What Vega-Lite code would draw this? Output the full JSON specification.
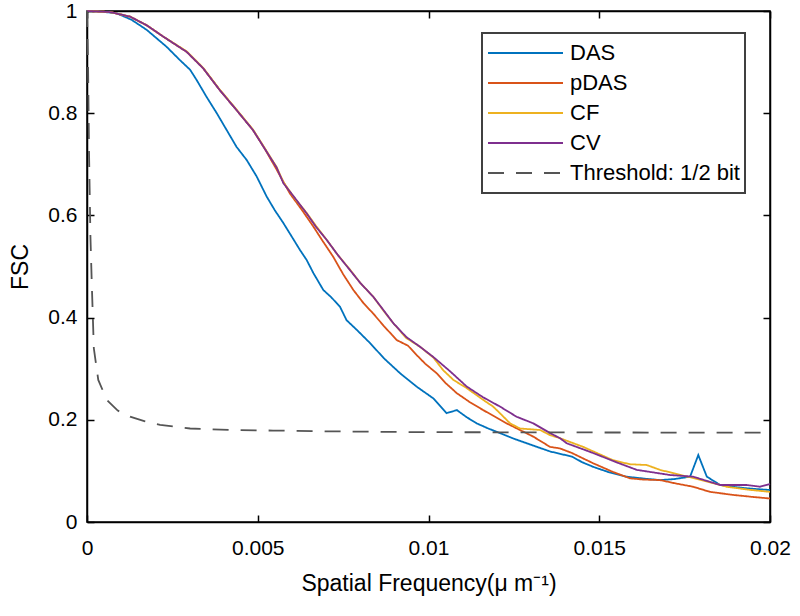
{
  "$schema": "https://vega.github.io/schema/vega-lite/v6.json",
  "width": 683,
  "height": 511,
  "autosize": {"type": "none"},
  "padding": {"left": 87, "top": 11, "right": 30, "bottom": 94},
  "background": "white",
  "config": {
    "font": "Liberation Sans",
    "view": {"stroke": "#000", "strokeWidth": 1.5},
    "axis": {
      "grid": false, "domainColor": "#000", "domainWidth": 1.5,
      "tickColor": "#000", "tickWidth": 1.5, "tickSize": -7,
      "labelColor": "#000", "labelFont": "Liberation Sans", "labelFontSize": 21,
      "titleFont": "Liberation Sans", "titleFontSize": 23, "titleFontWeight": "normal", "titleColor": "#000",
      "labelFlush": false, "labelOverlap": false, "labelBound": false
    },
    "legend": {
      "orient": "none", "legendX": 395, "legendY": 22,
      "fillColor": "#fff", "strokeColor": "#404040", "strokeWidth": 2, "padding": 5,
      "symbolType": "stroke", "symbolSize": 5625, "symbolStrokeWidth": 2,
      "labelFontSize": 22, "labelFont": "Liberation Sans", "labelColor": "#000",
      "labelOffset": 6, "clipHeight": 30, "rowPadding": 0, "labelLimit": 300
    }
  },
  "data": {"values": [
    {"series":"DAS","f":0,"fsc":1.0},{"series":"DAS","f":0.00038,"fsc":0.999},{"series":"DAS","f":0.00087,"fsc":0.9955},{"series":"DAS","f":0.0013,"fsc":0.983},{"series":"DAS","f":0.00175,"fsc":0.963},{"series":"DAS","f":0.00233,"fsc":0.930},{"series":"DAS","f":0.00272,"fsc":0.904},{"series":"DAS","f":0.00302,"fsc":0.885},{"series":"DAS","f":0.00321,"fsc":0.865},{"series":"DAS","f":0.0035,"fsc":0.832},{"series":"DAS","f":0.0038,"fsc":0.800},{"series":"DAS","f":0.00409,"fsc":0.767},{"series":"DAS","f":0.00438,"fsc":0.734},{"series":"DAS","f":0.00468,"fsc":0.708},{"series":"DAS","f":0.00497,"fsc":0.676},{"series":"DAS","f":0.00526,"fsc":0.637},{"series":"DAS","f":0.0055,"fsc":0.61},{"series":"DAS","f":0.00575,"fsc":0.585},{"series":"DAS","f":0.006,"fsc":0.558},{"series":"DAS","f":0.00624,"fsc":0.532},{"series":"DAS","f":0.00643,"fsc":0.513},{"series":"DAS","f":0.00663,"fsc":0.487},{"series":"DAS","f":0.00692,"fsc":0.454},{"series":"DAS","f":0.00715,"fsc":0.44},{"series":"DAS","f":0.00741,"fsc":0.421},{"series":"DAS","f":0.0076,"fsc":0.395},{"series":"DAS","f":0.0079,"fsc":0.376},{"series":"DAS","f":0.00829,"fsc":0.350},{"series":"DAS","f":0.0087,"fsc":0.32},{"series":"DAS","f":0.00917,"fsc":0.291},{"series":"DAS","f":0.00965,"fsc":0.265},{"series":"DAS","f":0.01014,"fsc":0.242},{"series":"DAS","f":0.01053,"fsc":0.213},{"series":"DAS","f":0.01083,"fsc":0.219},{"series":"DAS","f":0.01112,"fsc":0.205},{"series":"DAS","f":0.01141,"fsc":0.193},{"series":"DAS","f":0.01175,"fsc":0.183},{"series":"DAS","f":0.01209,"fsc":0.174},{"series":"DAS","f":0.0125,"fsc":0.163},{"series":"DAS","f":0.01288,"fsc":0.154},{"series":"DAS","f":0.01356,"fsc":0.138},{"series":"DAS","f":0.0142,"fsc":0.128},{"series":"DAS","f":0.0145,"fsc":0.117},{"series":"DAS","f":0.01482,"fsc":0.108},{"series":"DAS","f":0.0153,"fsc":0.097},{"series":"DAS","f":0.0158,"fsc":0.0887},{"series":"DAS","f":0.0163,"fsc":0.085},{"series":"DAS","f":0.01678,"fsc":0.082},{"series":"DAS","f":0.0172,"fsc":0.084},{"series":"DAS","f":0.01766,"fsc":0.0887},{"series":"DAS","f":0.0179,"fsc":0.131},{"series":"DAS","f":0.01815,"fsc":0.0887},{"series":"DAS","f":0.01854,"fsc":0.0724},{"series":"DAS","f":0.0189,"fsc":0.069},{"series":"DAS","f":0.01932,"fsc":0.066},{"series":"DAS","f":0.0197,"fsc":0.064},{"series":"DAS","f":0.02,"fsc":0.0626},
    {"series":"pDAS","f":0,"fsc":1.0},{"series":"pDAS","f":0.00067,"fsc":0.998},{"series":"pDAS","f":0.00126,"fsc":0.989},{"series":"pDAS","f":0.00175,"fsc":0.972},{"series":"pDAS","f":0.00223,"fsc":0.950},{"series":"pDAS","f":0.00292,"fsc":0.920},{"series":"pDAS","f":0.0034,"fsc":0.888},{"series":"pDAS","f":0.00389,"fsc":0.845},{"series":"pDAS","f":0.00438,"fsc":0.806},{"series":"pDAS","f":0.00486,"fsc":0.767},{"series":"pDAS","f":0.0052,"fsc":0.731},{"series":"pDAS","f":0.00555,"fsc":0.69},{"series":"pDAS","f":0.00594,"fsc":0.643},{"series":"pDAS","f":0.0063,"fsc":0.61},{"series":"pDAS","f":0.00663,"fsc":0.578},{"series":"pDAS","f":0.0069,"fsc":0.55},{"series":"pDAS","f":0.00721,"fsc":0.519},{"series":"pDAS","f":0.0075,"fsc":0.485},{"series":"pDAS","f":0.0078,"fsc":0.454},{"series":"pDAS","f":0.0081,"fsc":0.428},{"series":"pDAS","f":0.00838,"fsc":0.408},{"series":"pDAS","f":0.0087,"fsc":0.383},{"series":"pDAS","f":0.00907,"fsc":0.356},{"series":"pDAS","f":0.0094,"fsc":0.345},{"series":"pDAS","f":0.00965,"fsc":0.327},{"series":"pDAS","f":0.0099,"fsc":0.31},{"series":"pDAS","f":0.01024,"fsc":0.291},{"series":"pDAS","f":0.0105,"fsc":0.272},{"series":"pDAS","f":0.01083,"fsc":0.252},{"series":"pDAS","f":0.0112,"fsc":0.235},{"series":"pDAS","f":0.0116,"fsc":0.219},{"series":"pDAS","f":0.01195,"fsc":0.206},{"series":"pDAS","f":0.01229,"fsc":0.193},{"series":"pDAS","f":0.01268,"fsc":0.18},{"series":"pDAS","f":0.01307,"fsc":0.167},{"series":"pDAS","f":0.01356,"fsc":0.147},{"series":"pDAS","f":0.01385,"fsc":0.144},{"series":"pDAS","f":0.0142,"fsc":0.135},{"series":"pDAS","f":0.01482,"fsc":0.115},{"series":"pDAS","f":0.0154,"fsc":0.098},{"series":"pDAS","f":0.0159,"fsc":0.0855},{"series":"pDAS","f":0.0163,"fsc":0.083},{"series":"pDAS","f":0.01678,"fsc":0.082},{"series":"pDAS","f":0.0172,"fsc":0.076},{"series":"pDAS","f":0.01775,"fsc":0.069},{"series":"pDAS","f":0.01824,"fsc":0.059},{"series":"pDAS","f":0.01892,"fsc":0.053},{"series":"pDAS","f":0.0195,"fsc":0.049},{"series":"pDAS","f":0.02,"fsc":0.046},
    {"series":"CF","f":0,"fsc":1.0},{"series":"CF","f":0.00067,"fsc":0.998},{"series":"CF","f":0.00126,"fsc":0.989},{"series":"CF","f":0.00175,"fsc":0.972},{"series":"CF","f":0.00223,"fsc":0.950},{"series":"CF","f":0.00292,"fsc":0.921},{"series":"CF","f":0.0034,"fsc":0.889},{"series":"CF","f":0.00389,"fsc":0.846},{"series":"CF","f":0.00438,"fsc":0.807},{"series":"CF","f":0.00486,"fsc":0.768},{"series":"CF","f":0.0052,"fsc":0.732},{"series":"CF","f":0.00555,"fsc":0.695},{"series":"CF","f":0.00575,"fsc":0.665},{"series":"CF","f":0.0061,"fsc":0.632},{"series":"CF","f":0.00643,"fsc":0.605},{"series":"CF","f":0.0067,"fsc":0.58},{"series":"CF","f":0.00702,"fsc":0.552},{"series":"CF","f":0.00735,"fsc":0.522},{"series":"CF","f":0.0077,"fsc":0.494},{"series":"CF","f":0.008,"fsc":0.468},{"series":"CF","f":0.00838,"fsc":0.441},{"series":"CF","f":0.0087,"fsc":0.412},{"series":"CF","f":0.00897,"fsc":0.389},{"series":"CF","f":0.00935,"fsc":0.36},{"series":"CF","f":0.00975,"fsc":0.343},{"series":"CF","f":0.01014,"fsc":0.322},{"series":"CF","f":0.01043,"fsc":0.297},{"series":"CF","f":0.01073,"fsc":0.278},{"series":"CF","f":0.01112,"fsc":0.262},{"series":"CF","f":0.0116,"fsc":0.239},{"series":"CF","f":0.01189,"fsc":0.226},{"series":"CF","f":0.01209,"fsc":0.213},{"series":"CF","f":0.01239,"fsc":0.193},{"series":"CF","f":0.01268,"fsc":0.183},{"series":"CF","f":0.01327,"fsc":0.180},{"series":"CF","f":0.01356,"fsc":0.170},{"series":"CF","f":0.01385,"fsc":0.164},{"series":"CF","f":0.01453,"fsc":0.147},{"series":"CF","f":0.0154,"fsc":0.121},{"series":"CF","f":0.0159,"fsc":0.113},{"series":"CF","f":0.01639,"fsc":0.1115},{"series":"CF","f":0.01678,"fsc":0.102},{"series":"CF","f":0.01775,"fsc":0.086},{"series":"CF","f":0.01873,"fsc":0.069},{"series":"CF","f":0.0194,"fsc":0.063},{"series":"CF","f":0.02,"fsc":0.059},
    {"series":"CV","f":0,"fsc":1.0},{"series":"CV","f":0.00067,"fsc":0.998},{"series":"CV","f":0.00126,"fsc":0.989},{"series":"CV","f":0.00175,"fsc":0.972},{"series":"CV","f":0.00223,"fsc":0.950},{"series":"CV","f":0.00292,"fsc":0.920},{"series":"CV","f":0.0034,"fsc":0.888},{"series":"CV","f":0.00389,"fsc":0.845},{"series":"CV","f":0.00438,"fsc":0.806},{"series":"CV","f":0.00486,"fsc":0.767},{"series":"CV","f":0.0052,"fsc":0.731},{"series":"CV","f":0.00555,"fsc":0.694},{"series":"CV","f":0.00575,"fsc":0.663},{"series":"CV","f":0.0061,"fsc":0.633},{"series":"CV","f":0.00643,"fsc":0.604},{"series":"CV","f":0.0067,"fsc":0.578},{"series":"CV","f":0.00702,"fsc":0.552},{"series":"CV","f":0.00735,"fsc":0.522},{"series":"CV","f":0.0077,"fsc":0.493},{"series":"CV","f":0.008,"fsc":0.468},{"series":"CV","f":0.00838,"fsc":0.441},{"series":"CV","f":0.0087,"fsc":0.413},{"series":"CV","f":0.00897,"fsc":0.389},{"series":"CV","f":0.00935,"fsc":0.362},{"series":"CV","f":0.00975,"fsc":0.343},{"series":"CV","f":0.01014,"fsc":0.323},{"series":"CV","f":0.01063,"fsc":0.295},{"series":"CV","f":0.01112,"fsc":0.265},{"series":"CV","f":0.0116,"fsc":0.244},{"series":"CV","f":0.01209,"fsc":0.226},{"series":"CV","f":0.01258,"fsc":0.206},{"series":"CV","f":0.01307,"fsc":0.193},{"series":"CV","f":0.01356,"fsc":0.174},{"series":"CV","f":0.01385,"fsc":0.164},{"series":"CV","f":0.01405,"fsc":0.154},{"series":"CV","f":0.01482,"fsc":0.135},{"series":"CV","f":0.0155,"fsc":0.117},{"series":"CV","f":0.0161,"fsc":0.102},{"series":"CV","f":0.01707,"fsc":0.092},{"series":"CV","f":0.01775,"fsc":0.0887},{"series":"CV","f":0.01854,"fsc":0.0724},{"series":"CV","f":0.01932,"fsc":0.0724},{"series":"CV","f":0.01971,"fsc":0.069},{"series":"CV","f":0.02,"fsc":0.0744},
    {"series":"Threshold: 1/2 bit","f":0,"fsc":1.0},{"series":"Threshold: 1/2 bit","f":0.00003,"fsc":0.9},{"series":"Threshold: 1/2 bit","f":0.00006,"fsc":0.72},{"series":"Threshold: 1/2 bit","f":0.0001,"fsc":0.56},{"series":"Threshold: 1/2 bit","f":0.00014,"fsc":0.467},{"series":"Threshold: 1/2 bit","f":0.0002,"fsc":0.34},{"series":"Threshold: 1/2 bit","f":0.00033,"fsc":0.278},{"series":"Threshold: 1/2 bit","f":0.00058,"fsc":0.239},{"series":"Threshold: 1/2 bit","f":0.0009,"fsc":0.218},{"series":"Threshold: 1/2 bit","f":0.00126,"fsc":0.206},{"series":"Threshold: 1/2 bit","f":0.0017,"fsc":0.197},{"series":"Threshold: 1/2 bit","f":0.00214,"fsc":0.19},{"series":"Threshold: 1/2 bit","f":0.00302,"fsc":0.183},{"series":"Threshold: 1/2 bit","f":0.00419,"fsc":0.18},{"series":"Threshold: 1/2 bit","f":0.00545,"fsc":0.179},{"series":"Threshold: 1/2 bit","f":0.007,"fsc":0.1775},{"series":"Threshold: 1/2 bit","f":0.0085,"fsc":0.1765},{"series":"Threshold: 1/2 bit","f":0.01,"fsc":0.1758},{"series":"Threshold: 1/2 bit","f":0.0125,"fsc":0.1755},{"series":"Threshold: 1/2 bit","f":0.015,"fsc":0.1752},{"series":"Threshold: 1/2 bit","f":0.0175,"fsc":0.175},{"series":"Threshold: 1/2 bit","f":0.02,"fsc":0.175}
  ]},
  "layer": [
    {
      "mark": {"type": "line", "strokeWidth": 1.8},
      "encoding": {
        "x": {"field": "f", "type": "quantitative", "scale": {"domain": [0, 0.02], "nice": false, "zero": false},
              "axis": {"orient": "bottom", "values": [0, 0.005, 0.01, 0.015, 0.02], "format": "~g", "labelPadding": 22, "title": "Spatial Frequency(μ m⁻¹)", "titlePadding": 14}},
        "y": {"field": "fsc", "type": "quantitative", "scale": {"domain": [0, 1], "nice": false, "zero": false},
              "axis": {"orient": "left", "values": [0, 0.2, 0.4, 0.6, 0.8, 1], "format": "~g", "labelPadding": 17, "title": "FSC", "titlePadding": 15}},
        "color": {"field": "series", "type": "nominal",
                  "scale": {"domain": ["DAS", "pDAS", "CF", "CV", "Threshold: 1/2 bit"], "range": ["#0072BD", "#D95319", "#EDB120", "#7E2F8E", "#555555"]},
                  "legend": {"title": null}},
        "strokeDash": {"field": "series", "type": "nominal",
                  "scale": {"domain": ["DAS", "pDAS", "CF", "CV", "Threshold: 1/2 bit"], "range": [[1, 0], [1, 0], [1, 0], [1, 0], [16, 12]]},
                  "legend": {"title": null}}
      }
    },
    {
      "mark": {"type": "line", "opacity": 0},
      "encoding": {
        "x": {"field": "f", "type": "quantitative", "axis": {"orient": "top", "values": [0, 0.005, 0.01, 0.015, 0.02], "labels": false, "title": null}},
        "y": {"field": "fsc", "type": "quantitative", "axis": {"orient": "right", "values": [0, 0.2, 0.4, 0.6, 0.8, 1], "labels": false, "title": null}}
      }
    }
  ],
  "resolve": {"axis": {"x": "independent", "y": "independent"}}
}
